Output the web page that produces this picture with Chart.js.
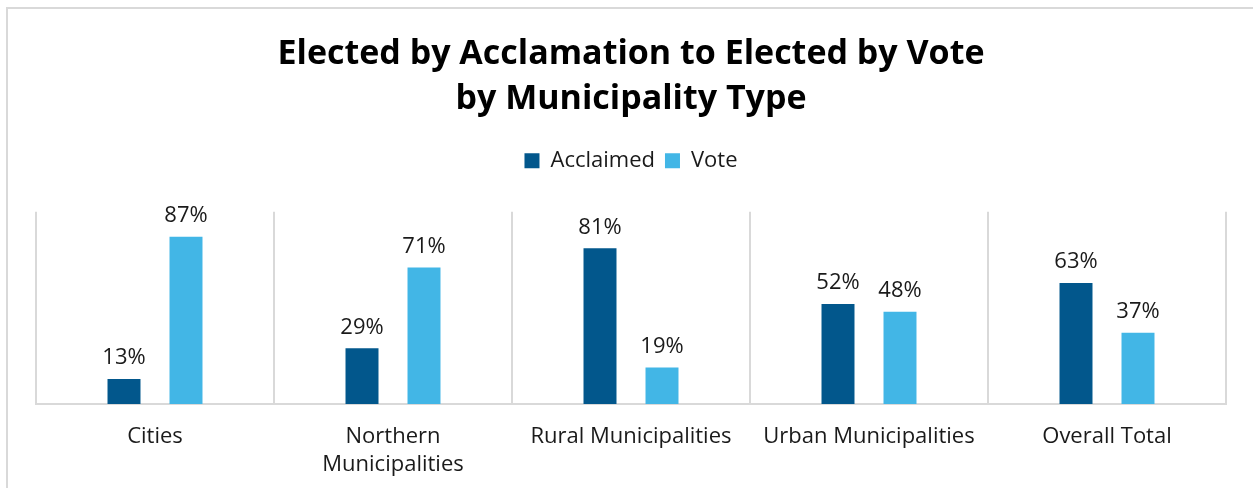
<!DOCTYPE html>
<html lang="en">
<head>
<meta charset="UTF-8">
<title>Elected by Acclamation to Elected by Vote</title>
<script src="https://cdn.jsdelivr.net/npm/chart.js"></script>
<style>
  html, body {
    margin: 0;
    padding: 0;
    background: #fff;
    overflow: hidden;
  }
  .frame {
    position: absolute;
    left: 6px;
    top: 7px;
    width: 1260px;
    height: 500px;
    border-top: 2px solid #d9d9d9;
    border-left: 2px solid #d9d9d9;
  }
  .wrap {
    position: absolute;
    left: 0;
    top: 0;
    width: 1253px;
    height: 488px;
  }
</style>
</head>
<body>
<div class="frame"></div>
<div class="wrap"><canvas id="chart"></canvas></div>

<script>
  const categories = ['Cities', ['Northern', 'Municipalities'], 'Rural Municipalities', 'Urban Municipalities', 'Overall Total'];
  const acclaimed = [13, 29, 81, 52, 63];
  const vote = [87, 71, 19, 48, 37];
  const seriesNames = ['Acclaimed', 'Vote'];
  const titleLines = ['Elected by Acclamation to Elected by Vote', 'by Municipality Type'];

  const FONT = '"Open Sans", "Noto Sans", sans-serif';

  // labels over each bar, e.g. "87%"
  const barLabels = {
    id: 'barLabels',
    afterDatasetsDraw(chart) {
      const ctx = chart.ctx;
      ctx.save();
      ctx.font = '22px ' + FONT;
      ctx.fillStyle = '#1a1a1a';
      ctx.textAlign = 'center';
      ctx.textBaseline = 'bottom';
      chart.data.datasets.forEach((ds, i) => {
        chart.getDatasetMeta(i).data.forEach((bar, j) => {
          ctx.fillText(ds.data[j] + '%', bar.x, bar.y - 10);
        });
      });
      ctx.restore();
    }
  };

  // extra room between legend and plot
  const legendGap = {
    id: 'legendGap',
    beforeInit(chart) {
      const fit = chart.legend.fit;
      chart.legend.fit = function () {
        fit.bind(chart.legend)();
        this.height += 30;
      };
    }
  };

  new Chart(document.getElementById('chart'), {
    type: 'bar',
    data: {
      labels: categories,
      datasets: [{
        label: seriesNames[0],
        data: acclaimed,
        backgroundColor: '#02578c',
        borderWidth: 0,
        categoryPercentage: 0.521,
        barPercentage: 0.532
      }, {
        label: seriesNames[1],
        data: vote,
        backgroundColor: '#42b6e6',
        borderWidth: 0,
        categoryPercentage: 0.521,
        barPercentage: 0.532
      }]
    },
    options: {
      responsive: true,
      maintainAspectRatio: false,
      animation: false,
      layout: {
        padding: { left: 36, right: 27, top: 0, bottom: 0 }
      },
      plugins: {
        title: {
          display: true,
          text: titleLines,
          color: '#000',
          font: { family: FONT, size: 34, weight: 'bold', lineHeight: 1.32 },
          padding: { top: 32, bottom: 18 }
        },
        legend: {
          display: true,
          labels: {
            color: '#1a1a1a',
            font: { family: FONT, size: 22 },
            boxWidth: 15,
            boxHeight: 15,
            padding: 10
          }
        },
        tooltip: { enabled: false }
      },
      scales: {
        x: {
          offset: true,
          grid: {
            display: true,
            offset: true,
            color: '#d9d9d9',
            lineWidth: 2,
            drawTicks: false
          },
          border: { display: true, color: '#d9d9d9', width: 2 },
          ticks: {
            color: '#1a1a1a',
            font: { family: FONT, size: 22, lineHeight: 1.25 },
            padding: 19,
            maxRotation: 0,
            autoSkip: false
          },
          afterFit(scale) {
            scale.height = 84;
          }
        },
        y: {
          display: false,
          min: 0,
          max: 100
        }
      }
    },
    plugins: [barLabels, legendGap]
  });
</script>
</body>
</html>
